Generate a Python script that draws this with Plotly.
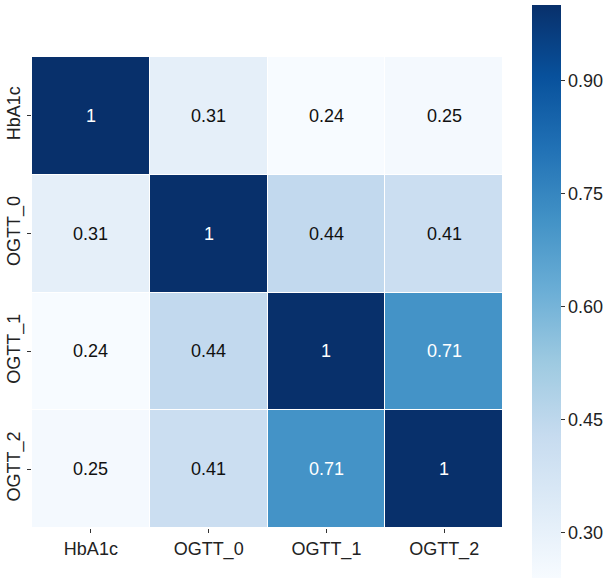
import plotly.graph_objects as go

labels = ["HbA1c", "OGTT_0", "OGTT_1", "OGTT_2"]
corr = [
    [1.00, 0.31, 0.24, 0.25],
    [0.31, 1.00, 0.44, 0.41],
    [0.24, 0.44, 1.00, 0.71],
    [0.25, 0.41, 0.71, 1.00],
]
cbar_ticks = [0.30, 0.45, 0.60, 0.75, 0.90]
zmin, zmax = 0.24, 1.0

W, H = 613, 582
FONT = "Liberation Sans, Arial, Helvetica, sans-serif"

fig = go.Figure()
fig.add_trace(go.Heatmap(
    z=corr, x=labels, y=labels,
    colorscale="Blues", zmin=zmin, zmax=zmax,
    xgap=1, ygap=1,
    hoverinfo="skip",
    colorbar=dict(
        x=532 / W, xanchor="left", xpad=0,
        y=1 - 5 / H, yanchor="top", ypad=0,
        len=573 / H, lenmode="fraction",
        thickness=29, thicknessmode="pixels",
        outlinewidth=0,
        tickvals=cbar_ticks, tickformat=".2f",
        ticks="outside", ticklen=4, tickwidth=1, tickcolor="#333",
        tickfont=dict(family=FONT, size=18, color="#222"),
    ),
))

annotations = []
for i, row in enumerate(corr):
    for j, v in enumerate(row):
        txt = "1" if v == 1 else f"{v:.2f}".rstrip("0").rstrip(".")
        annotations.append(dict(
            x=labels[j], y=labels[i], text=txt, showarrow=False,
            font=dict(family=FONT, size=18, color="white" if v > 0.6 else "#111"),
        ))

fig.update_layout(
    width=W, height=H,
    margin=dict(l=0, r=0, t=0, b=0),
    paper_bgcolor="white", plot_bgcolor="white",
    annotations=annotations,
    xaxis=dict(
        domain=[32 / W, 503 / W], showgrid=False, zeroline=False,
        ticks="outside", ticklen=4, tickcolor="#333",
        tickfont=dict(family=FONT, size=18, color="#222"),
        automargin=False,
    ),
    yaxis=dict(
        domain=[1 - 528 / H, 1 - 57 / H], showgrid=False, zeroline=False,
        autorange="reversed", tickangle=-90,
        ticks="outside", ticklen=4, tickcolor="#333",
        tickfont=dict(family=FONT, size=18, color="#222"),
        automargin=False,
    ),
)

fig.write_html(
    "out.html",
    config={"displayModeBar": False, "staticPlot": True},
    post_script="document.body.style.margin='0';document.body.style.overflow='hidden';",
)
